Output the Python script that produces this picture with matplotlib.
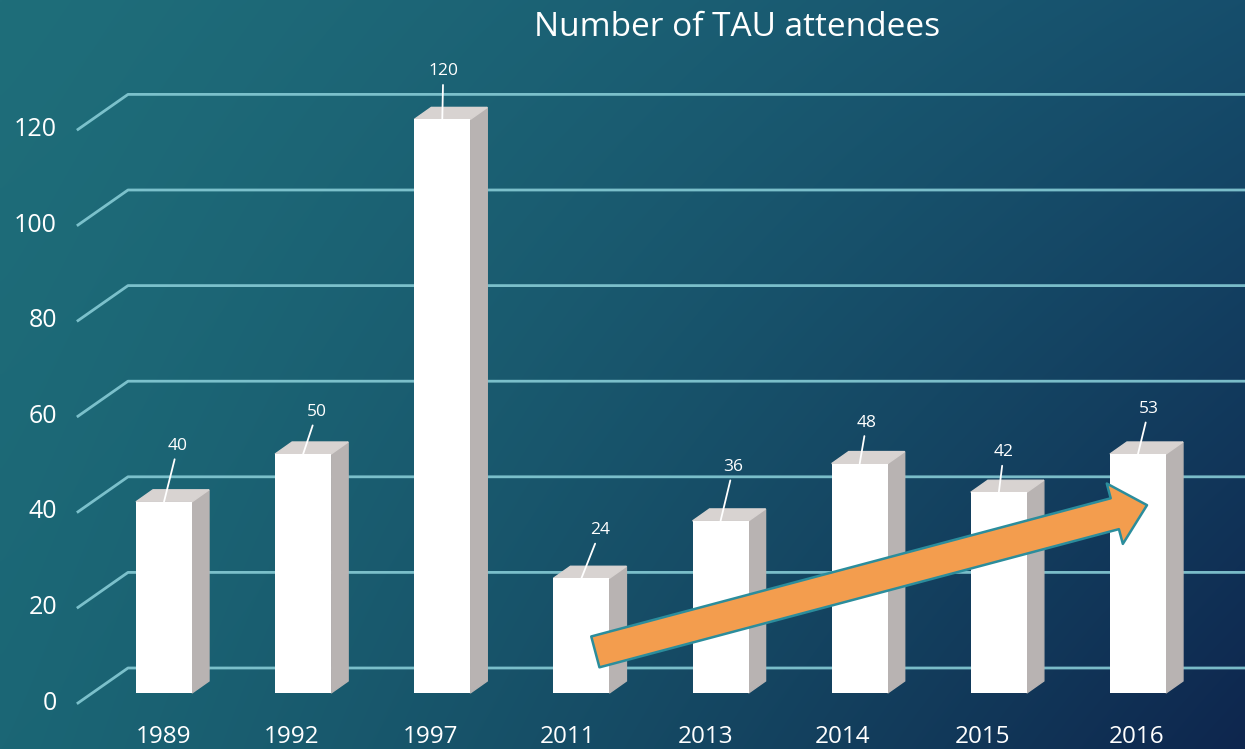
import matplotlib.pyplot as plt
import matplotlib.transforms as mtransforms
from matplotlib.patches import FancyArrowPatch
import numpy as np

# data
years = ["1989", "1992", "1997", "2011", "2013", "2014", "2015", "2016"]
bar_heights = [40, 50, 120, 24, 36, 48, 42, 50]
value_labels = ["40", "50", "120", "24", "36", "48", "42", "53"]
y_ticks = [0, 20, 40, 60, 80, 100, 120]
trend_start = (3.10, 8.6)
trend_end = (7.065, 39.3)

# layout / style
W, H = 1245, 749
SLOT_PX = 139.14          # px between bar centres
UNIT_PX = 4.78            # px per attendee
BASE_PX = 693             # pixel row of value 0 on the bar plane
FIRST_PX = 164            # pixel column of the first bar
label_offsets = [(14, 56), (14, 42), (1, 48), (19, 48), (13, 54), (7, 41), (5, 40), (11, 45)]
year_shift = [0, -12, -12, -14, -15, -17, -16, -1]
grid_color = '#86cbd5'
font = 'Open Sans'

fig = plt.figure(figsize=(W / 100, H / 100), dpi=100)

# background gradient (bilinear between the four corners)
tl = np.array([31, 110, 122]) / 255
tr = np.array([22, 78, 108]) / 255
bl = np.array([27, 102, 117]) / 255
br = np.array([14, 38, 78]) / 255
xx, yy = np.meshgrid(np.linspace(0, 1, 400), np.linspace(0, 1, 240))
xx, yy = xx[..., None] ** 1.2, yy[..., None]
grad = (tl * (1 - xx) * (1 - yy) + tr * xx * (1 - yy)
        + bl * (1 - xx) * yy + br * xx * yy)
bg = fig.add_axes([0, 0, 1, 1])
bg.imshow(grad, extent=[0, 1, 0, 1], aspect='auto', interpolation='bilinear')
bg.axis('off')

# main axes: bar plane, value 0..120
left = (FIRST_PX - SLOT_PX / 2) / W
bottom = (H - BASE_PX) / H
ax = fig.add_axes([left, bottom, len(years) * SLOT_PX / W, 120 * UNIT_PX / H])
ax.set_xlim(-0.5, len(years) - 0.5)
ax.set_ylim(0, 120)
ax.patch.set_alpha(0)
ax.axis('off')

x = np.arange(len(years))

# perspective gridlines: short diagonal at the front, then flat at the back
for v in y_ticks:
    y_pix = ax.transData.transform((0, v))[1]
    front = (y_pix - 10) / H
    back = (y_pix + 25) / H
    ax.plot([78 / W, 128 / W, 1.0], [front, back, back], color=grid_color,
            lw=2.0, alpha=0.9, transform=fig.transFigure, clip_on=False, zorder=1)

# y tick labels on the front plane
tick_tr = mtransforms.offset_copy(
    mtransforms.blended_transform_factory(fig.transFigure, ax.transData),
    fig=fig, x=0, y=-10, units='dots')
for v in y_ticks:
    ax.text(57 / W, v, str(v), transform=tick_tr, ha='right', va='center',
            color='white', fontsize=18, family=font, clip_on=False)

# 3d bars: front face + side + top
w = 0.4025
dx = 17 / SLOT_PX
dy = 12 / UNIT_PX
for xi, h in zip(x, bar_heights):
    r = xi + w / 2
    l = xi - w / 2
    ax.fill([r, r + dx, r + dx, r], [0, dy, h + dy, h],
            color='#b8b3b2', zorder=2.5, clip_on=False)
    ax.fill([l, l + dx, r + dx, r], [h, h + dy, h + dy, h],
            color='#d8d3d1', zorder=2.5, clip_on=False)
ax.bar(x, bar_heights, width=w, color='white', zorder=3, clip_on=False)

# value labels with leader lines
for xi, h, lab, off in zip(x, bar_heights, value_labels, label_offsets):
    ax.annotate(lab, xy=(xi, h), xytext=off, textcoords='offset pixels',
                ha='center', va='center', color='white', fontsize=12.5,
                family=font, annotation_clip=False, zorder=4,
                arrowprops=dict(arrowstyle='-', color='white', lw=1.3,
                                shrinkA=2, shrinkB=0))

# year labels along the bottom
year_tr = mtransforms.blended_transform_factory(ax.transData, fig.transFigure)
for xi, yr, s in zip(x, years, year_shift):
    ax.text(xi + s / SLOT_PX, 1 - 737 / H, yr, transform=year_tr, ha='center',
            va='center', color='white', fontsize=17.5, family=font, clip_on=False)

# orange trend arrow
arrow = FancyArrowPatch(trend_start, trend_end,
                        arrowstyle='simple,head_width=45,head_length=24,tail_width=23',
                        mutation_scale=1, shrinkA=0, shrinkB=0,
                        facecolor='#f39d4e', edgecolor='#2b8d9c', lw=1.8,
                        zorder=5, clip_on=False)
ax.add_patch(arrow)

fig.text(737 / W, 1 - 28 / H, 'Number of TAU attendees', ha='center', va='center',
         color='white', fontsize=24, family=font)

fig.savefig('out.png', dpi=100)
